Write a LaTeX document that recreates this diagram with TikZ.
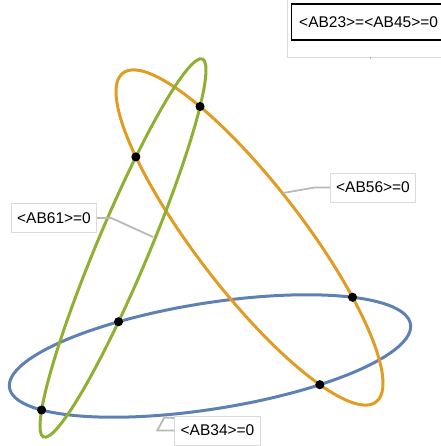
\documentclass[tikz,border=0pt]{standalone}
\usepackage{fontspec}
\setmainfont{Liberation Sans}
\usetikzlibrary{intersections, calc}
\definecolor{cblue}{HTML}{5E81B5}
\definecolor{corange}{HTML}{E19C24}
\definecolor{cgreen}{HTML}{8FB032}
\definecolor{cframe}{HTML}{DADADA}
\definecolor{clead}{HTML}{B8B8B8}
\tikzset{
  every picture/.style={x=1pt, y=1pt},
  conic/.style={draw=#1, line width=3pt},
  pt/.style={circle, draw=black, fill=black, line width=1pt, minimum size=8pt, inner sep=0pt},
  tag/.style={draw=cframe, fill=white, line width=0.8pt, font=\fontsize{15.5}{18}\selectfont, inner xsep=6pt, minimum height=29pt},
  lead/.style={draw=clead, line width=1.8pt},
}

\begin{document}
\begin{tikzpicture}
  \useasboundingbox (0,0) rectangle (440,446);
  % the three conics
  \path[conic=cblue, name path=blue, rotate around={9:(210,90)}] (210,90) ellipse [x radius=203, y radius=53];
  \path[conic=corange, name path=orange, rotate around={-52.4:(249.5,208.5)}] (249.5,208.5) ellipse [x radius=207.5, y radius=53.3];
  \path[conic=cgreen, name path=green, rotate around={67.2:(123,198)}] (123,198) ellipse [x radius=205, y radius=26];
  % marked crossings
  \path[name intersections={of=blue and orange, sort by=blue, name=bo}];
  \path[name intersections={of=blue and green, sort by=blue, name=bg}];
  \path[name intersections={of=orange and green, sort by=orange, name=og}];
  \foreach \p in {bo-1, bo-3, bg-1, bg-3, og-1, og-3} \node[pt] (d\p) at (\p) {};
  % callouts
  \node[tag] (l56) at (373,258.5) {<AB56>=0};
  \node[tag] (l61) at (54,228) {<AB61>=0};
  \node[tag] (l34) at (217.5,15.5) {<AB34>=0};
  \node[tag, draw=black, line width=1.2pt, minimum height=36pt, minimum width=154pt, align=left, anchor=west] (l2345) at (291,424) {<AB23>=<AB45>=0\hfill};
  \draw[draw=cframe, line width=0.8pt] (287,389) rectangle (446,450);
  \coordinate (a56) at (283,253);
  \coordinate (a61) at (153,209);
  \coordinate (a34) at (174,28);
  \coordinate (a2345) at (370,387);
  \draw[lead] (l56.west) -- ++(-15,0) -- (a56);
  \draw[lead] (l61.east) -- ++(14,0) -- (a61);
  \draw[lead] (l34.west) -- ++(-17,0) -- ++(7,13) -- (a34);
  \draw[lead, line width=1pt] (370,389) -- (a2345);
\end{tikzpicture}
\end{document}
